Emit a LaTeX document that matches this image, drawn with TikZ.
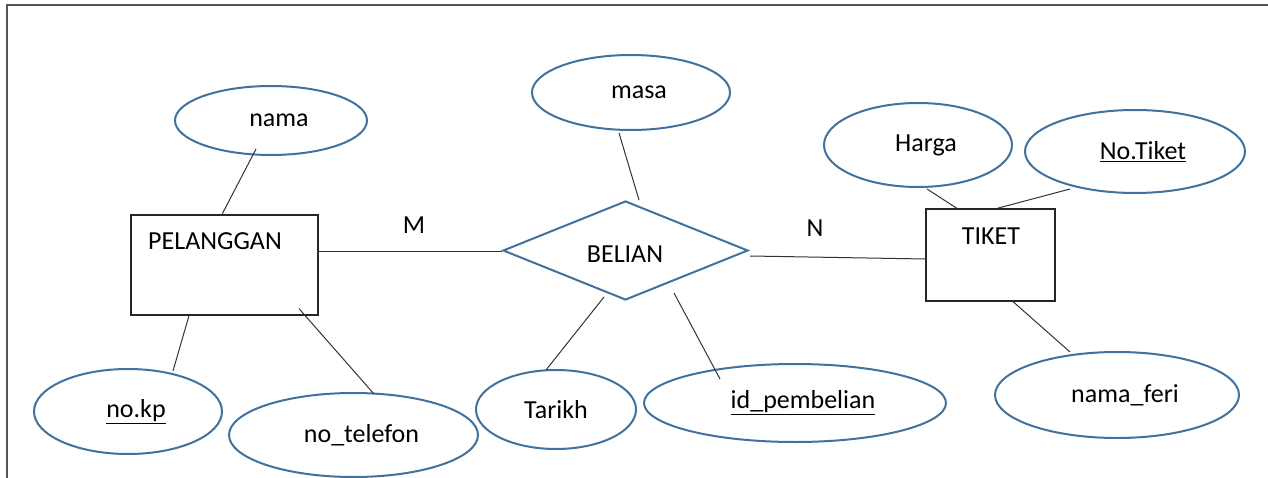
\documentclass[tikz,border=0pt]{standalone}
\usepackage{fontspec}
\setmainfont{Carlito}
\usetikzlibrary{shapes.geometric,calc}
\definecolor{erblue}{RGB}{65,113,156}
\definecolor{frame}{RGB}{85,85,85}
\newcommand{\shr}{\hspace*{16pt}}
\begin{document}
\begin{tikzpicture}[x=1pt,y=-1pt,
  every node/.style={font=\fontsize{26}{30}\selectfont, text=black},
  attr/.style={ellipse, draw=erblue, line width=2pt, inner sep=0pt, fill=white},
  entity/.style={rectangle, draw=black!85, line width=1.2pt, inner sep=0pt},
  rel/.style={diamond, draw=erblue, line width=2pt, inner sep=0pt, shape aspect=2.45},
  conn/.style={draw=black!80, line width=1pt},
  lbl/.style={inner sep=0pt}]
\useasboundingbox (0,0) rectangle (1268,478);
\draw[frame, line width=1.8pt] (7,478) -- (7,5) -- (1268,5);

% entities
\node[entity, minimum width=187pt, minimum height=100pt] (pel) at (224.5,265) {};
\node[lbl] (pelt) at (215,241) {PELANGGAN};
\node[entity, minimum width=129pt, minimum height=92pt] (tik) at (990.5,255) {};
\node[lbl] (tikt) at (991,236) {TIKET};

% relationship
\node[rel, minimum width=245pt, minimum height=99pt] (bel) at (625.5,250.5) {};
\node[lbl] (belt) at (625,254) {BELIAN};

% attributes
\node[attr, minimum width=192pt, minimum height=69pt] (nama) at (271,120.5) {\shr nama};
\node[attr, minimum width=198pt, minimum height=75pt] (masa) at (631,92.5) {\shr masa};
\node[attr, minimum width=188pt, minimum height=84pt] (harga) at (918,145) {\shr Harga};
\node[attr, minimum width=220pt, minimum height=83pt] (notik) at (1135,151.5) {\shr\underline{No.Tiket}};
\node[attr, minimum width=244pt, minimum height=86pt] (nferi) at (1117,395) {\shr nama\_feri};
\node[attr, minimum width=188pt, minimum height=85pt] (nokp) at (128,411.5) {\shr\underline{no.kp}};
\node[attr, minimum width=249pt, minimum height=84pt] (notel) at (353.5,435) {\shr no\_telefon};
\node[attr, minimum width=160pt, minimum height=79pt] (tarikh) at (556,409.5) {Tarikh};
\node[attr, minimum width=302pt, minimum height=78pt] (idp) at (795,403) {\shr\underline{id\_pembelian}};

% cardinalities
\node[lbl] (m) at (414,225) {M};
\node[lbl] (n) at (815,228) {N};

% connectors
\draw[conn] ($(nama.center)+(-15,28.5)$) -- ($(pel.north)+(-2.5,0)$);
\draw[conn] ($(pel.east)+(0,-13)$) -- ($(bel.west)+(0,1.5)$);
\draw[conn] ($(masa.center)+(-12,40.5)$) -- ($(bel.north)+(13.5,0)$);
\draw[conn] ($(bel.east)+(1,5.5)$) -- ($(tik.west)+(0,4)$);
\draw[conn] ($(harga.center)+(9,44)$) -- ($(tik.north)+(-33.5,0)$);
\draw[conn] ($(notik.center)+(-65,37.5)$) -- ($(tik.north)+(6.5,0)$);
\draw[conn] ($(tik.south)+(22.5,0)$) -- ($(nferi.center)+(-47,-43)$);
\draw[conn] ($(pel.south)+(-35.5,0)$) -- ($(nokp.center)+(45,-40.5)$);
\draw[conn] ($(pel.south)+(74.5,-7)$) -- ($(notel.center)+(20.5,-41)$);
\draw[conn] ($(bel.south)+(-21.5,-4)$) -- ($(tarikh.center)+(-10,-39.5)$);
\draw[conn] ($(bel.south)+(48.5,-8)$) -- ($(idp.center)+(-75,-24)$);
\end{tikzpicture}
\end{document}
